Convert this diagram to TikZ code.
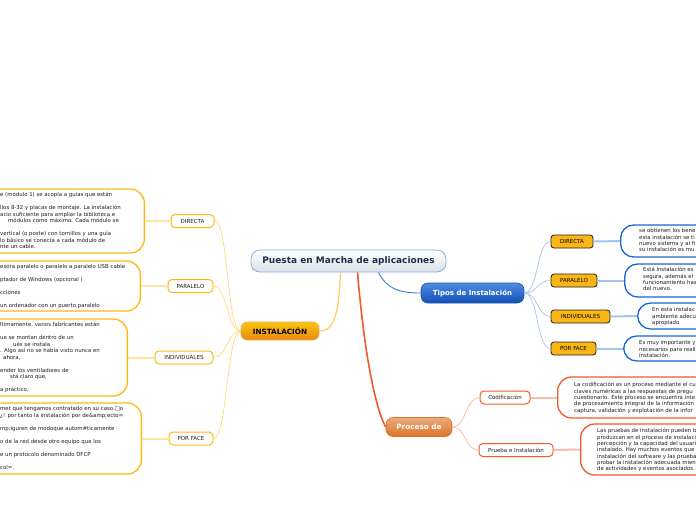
\documentclass[tikz,border=0pt]{standalone}
\usepackage{fontspec}
\setmainfont{DejaVu Sans}
\usepackage{tikz}
\usetikzlibrary{positioning}
\definecolor{mapBlue}{HTML}{1565D8}
\definecolor{mapDeepBlue}{HTML}{1250B5}
\definecolor{mapSky}{HTML}{A3C6EE}
\definecolor{mapRoot}{HTML}{7DB2E2}
\definecolor{mapGrey}{HTML}{DCE1E6}
\definecolor{mapNavy}{HTML}{1F2F4A}
\definecolor{mapGold}{HTML}{FDB813}
\definecolor{mapAmber}{HTML}{FBB615}
\definecolor{mapOrange}{HTML}{E8890C}
\definecolor{mapCream}{HTML}{FFD77A}
\definecolor{mapRed}{HTML}{F05A28}
\definecolor{mapRust}{HTML}{DC7428}
\definecolor{mapSalmon}{HTML}{F9BCA6}
\definecolor{mapInk}{HTML}{1E1E1E}
\tikzset{
  rootnode/.style={rectangle, rounded corners=9pt, draw=mapRoot, line width=0.8pt,
    top color=white, bottom color=mapGrey, text=mapNavy,
    font=\fontsize{9}{10}\selectfont\bfseries, minimum width=195pt, minimum height=22pt},
  instnode/.style={rectangle, rounded corners=6pt, draw=mapOrange!70!white, line width=0.6pt,
    top color=mapAmber!80!yellow, bottom color=mapOrange, text=black,
    font=\fontsize{7.2}{8}\selectfont\bfseries, minimum width=78pt, minimum height=18pt},
  tiposnode/.style={rectangle, rounded corners=7pt, draw=mapDeepBlue, line width=0.6pt,
    top color=mapBlue!75!white, bottom color=mapDeepBlue, text=white,
    font=\fontsize{7}{8}\selectfont\bfseries, minimum width=103pt, minimum height=20pt},
  procnode/.style={rectangle, rounded corners=7pt, draw=mapRust, line width=0.6pt,
    top color=mapRust!60!white, bottom color=mapRust, text=white,
    font=\fontsize{7.3}{8}\selectfont\bfseries, minimum width=66pt, minimum height=19pt},
  leftleaf/.style={rectangle, rounded corners=4pt, draw=mapGold, line width=1pt,
    fill=white, text=mapInk, font=\fontsize{5.5}{6.5}\selectfont, minimum height=13pt, inner sep=2pt},
  rightleaf/.style={rectangle, rounded corners=3pt, draw=mapInk, line width=0.8pt,
    fill=mapAmber, text=black, font=\fontsize{5.5}{6.5}\selectfont, minimum height=13pt, inner sep=2pt},
  lowleaf/.style={rectangle, rounded corners=4pt, draw=mapRed, line width=1pt,
    fill=white, text=mapInk, font=\fontsize{5.5}{6.5}\selectfont, minimum height=13pt, inner sep=2pt},
  leftbox/.style={rectangle, rounded corners=14pt, draw=mapGold, line width=1.3pt,
    fill=white, minimum width=220pt, anchor=east},
  rightbox/.style={rectangle, rounded corners=13pt, draw=mapBlue, line width=1.3pt,
    fill=white, minimum width=160pt, anchor=west},
  lowbox/.style={rectangle, rounded corners=14pt, draw=mapRed, line width=1.3pt,
    fill=white, minimum width=200pt, anchor=west},
  boxtext/.style={align=left, inner sep=0pt, anchor=north west, text=mapInk,
    font=\fontsize{5.4}{6.5}\selectfont},
  boxline/.style={inner sep=0pt, anchor=base west, text=mapInk,
    font=\fontsize{5.4}{6.5}\selectfont},
  instlink/.style={draw=mapCream!70!mapGold, line width=1.2pt},
  tiposlink/.style={draw=mapBlue!85!white, line width=0.9pt},
  proclink/.style={draw=mapRed, line width=1.6pt},
  leftlink/.style={draw=mapCream, line width=0.7pt},
  leftbar/.style={draw=mapCream!70!white, line width=2pt},
  rightlink/.style={draw=mapSky, line width=0.7pt},
  rightbar/.style={draw=mapSky, line width=2pt},
  lowlink/.style={draw=mapSalmon, line width=0.8pt},
  lowbar/.style={draw=mapSalmon, line width=2pt},
}
\begin{document}
\begin{tikzpicture}[x=1pt, y=-1pt]
  \useasboundingbox (0,0) rectangle (696,520);
  \clip (0,0) rectangle (696,520);
  % ---------------- main topics ----------------
  \node[rootnode] (root) at (348.5,261) {Puesta en Marcha de aplicaciones};
  \node[instnode] (instal) at (280,331) {INSTALACIÓN};
  \node[tiposnode] (tipos) at (472.5,293) {Tipos de Instalación};
  \node[procnode] (proceso) at (419,427) {Proceso de};
  \draw[instlink] ([xshift=-8pt]root.south) .. controls +(-2,45) and +(14,0) .. (instal.east);
  \draw[tiposlink] ([xshift=30pt]root.south) .. controls +(8,16) and +(-22,0) .. (tipos.west);
  \draw[proclink] ([xshift=9pt]root.south) .. controls +(8,95) and +(-8,-14) .. (proceso.west);
  % ---------------- INSTALACION (left) ----------------
  \node[leftleaf, minimum width=43pt] (ldir) at (192.5,221) {DIRECTA};
  \node[leftleaf, minimum width=45pt] (lpar) at (190.5,286) {PARALELO};
  \node[leftleaf, minimum width=58pt] (lind) at (184,357.5) {INDIVIDUALES};
  \node[leftleaf, minimum width=44pt] (lpor) at (191,438.5) {POR FACE};
  \foreach \leaf in {ldir,lpar,lind,lpor}
    \draw[leftlink] (instal.west) .. controls +(-14,0) and +(14,0) .. (\leaf.east);
  \node[leftbox, minimum height=64pt] (bdir) at (145,221) {};
  \node[leftbox, minimum height=50pt] (bpar) at (141,286) {};
  \node[leftbox, minimum height=77pt] (bind) at (128,357.5) {};
  \node[leftbox, minimum height=71pt] (bpor) at (142,438.5) {};
  \draw[leftbar] (ldir.west) -- (bdir.east);
  \draw[leftbar] (lpar.west) -- (bpar.east);
  \draw[leftbar] (lind.west) -- (bind.east);
  \draw[leftbar] (lpor.west) -- (bpor.east);
  \node[boxtext] (tdir) at (0,192.4) {e (módulo 1) se acopla a guías que están\\[6.5pt]
    llos 8-32 y placas de montaje. La instalación\\
    acio suficiente para ampliar la biblioteca e\\
    \mbox{}\\[6.5pt]
    vertical (o poste) con tornillos y una guía\\
    lo básico se conecta a cada módulo de\\
    nte un cable.};
  \node[boxline] (tdirb) at (8,222.5) {módulos como máximo. Cada módulo se};
  \node[boxtext] (tpar) at (0,264.4) {esora paralelo o paralelo a paralelo USB cable\\[6.5pt]
    ptador de Windows (opcional )\\[6.5pt]
    cciones\\[6.5pt]
    un ordenador con un puerto paralelo};
  \node[boxtext] (tind) at (0,322.4) {ltimamente, varios fabricantes están\\[6.5pt]
    ue se montan dentro de un\\
    \mbox{}\\
    . Algo así no se había visto nunca en\\
    \mbox{}\\[6.5pt]
    ender los ventiladores de\\
    \mbox{}\\[6.5pt]
    a práctico,};
  \node[boxline] (tindb) at (13,346) {ués se instala};
  \node[boxline] (tindc) at (3,359) {ahora,};
  \node[boxline] (tindd) at (10,378.5) {stá claro que,};
  \node[boxtext] (tpor) at (0,406.4) {met que tengamos contratado en su caso.□o\\
    ¿! por tanto la instalación por de\&amp;ecto=\\[6.5pt]
    mp;iguren de modoque autom\#ticamente\\[6.5pt]
    o de la red desde otro equipo que los\\[6.5pt]
    e un protocolo denominado DFCP\\[6.5pt]
    col=.};
  % ---------------- Tipos de Instalacion (right) ----------------
  \node[rightleaf, minimum width=42pt] (rdir) at (572,241.5) {DIRECTA};
  \node[rightleaf, minimum width=46pt] (rpar) at (574,280.5) {PARALELO};
  \node[rightleaf, minimum width=59pt] (rind) at (580.5,316.5) {INDIVIDUALES};
  \node[rightleaf, minimum width=45pt] (rpor) at (573.5,348.5) {POR FACE};
  \foreach \leaf in {rdir,rpar,rind,rpor}
    \draw[rightlink] (tipos.east) .. controls +(14,0) and +(-14,0) .. (\leaf.west);
  \node[rightbox, minimum height=32pt] (sdir) at (620,241) {};
  \node[rightbox, minimum height=33pt] (spar) at (624,280.5) {};
  \node[rightbox, minimum height=26pt] (sind) at (637,316) {};
  \node[rightbox, minimum height=25pt] (spor) at (623,348.5) {};
  \draw[rightbar] (rdir.east) -- (sdir.west);
  \draw[rightbar] (rpar.east) -- (spar.west);
  \draw[rightbar] (rind.east) -- (sind.west);
  \draw[rightbar] (rpor.east) -- (spor.west);
  \node[boxtext, font=\fontsize{5.4}{6.3}\selectfont] (udir) at (639,228.4)
    {se obtienen los bene\\esta instalación se ti\\nuevo sistema y al fi\\su instalación es mu};
  \node[boxtext, font=\fontsize{5.4}{6.3}\selectfont] (upar) at (643,267.4)
    {Está instalación es\\segura, además el\\funcionamiento has\\del nuevo.};
  \node[boxtext, font=\fontsize{5.4}{6.3}\selectfont] (uind) at (652,307.4)
    {En esta instalac\\ambiente adecu\\apropiado.};
  \node[boxtext, font=\fontsize{5.4}{6.3}\selectfont] (upor) at (639,340.4)
    {Es muy importante y\\necesarios para reali\\instalación.};
  % ---------------- Proceso de (bottom) ----------------
  \node[lowleaf, minimum width=50pt] (pcod) at (505,397.5) {Codificación};
  \node[lowleaf, minimum width=74pt] (ppru) at (516,450) {Prueba e Instalación};
  \foreach \leaf in {pcod,ppru}
    \draw[lowlink] (proceso.east) .. controls +(14,0) and +(-14,0) .. (\leaf.west);
  \node[lowbox, minimum height=41pt] (qcod) at (557,397.5) {};
  \node[lowbox, minimum height=51pt] (qpru) at (580,449.5) {};
  \draw[lowbar] (pcod.east) -- (qcod.west);
  \draw[lowbar] (ppru.east) -- (qpru.west);
  \node[boxtext, font=\fontsize{5.4}{6.3}\selectfont] (vcod) at (574,382.4)
    {La codificación es un proceso mediante el cu\\claves numéricas a las respuestas de pregu\\cuestionario. Este proceso se encuentra inte\\de procesamiento integral de la información\\captura, validación y explotación de la infor};
  \node[boxtext, font=\fontsize{5.4}{6.3}\selectfont] (vpru) at (597,428.4)
    {Las pruebas de instalación pueden b\\produzcan en el proceso de instalaci\\percepción y la capacidad del usuari\\instalado. Hay muchos eventos que\\instalación del software y las prueba\\probar la instalación adecuada mien\\de actividades y eventos asociados.};
\end{tikzpicture}
\end{document}
